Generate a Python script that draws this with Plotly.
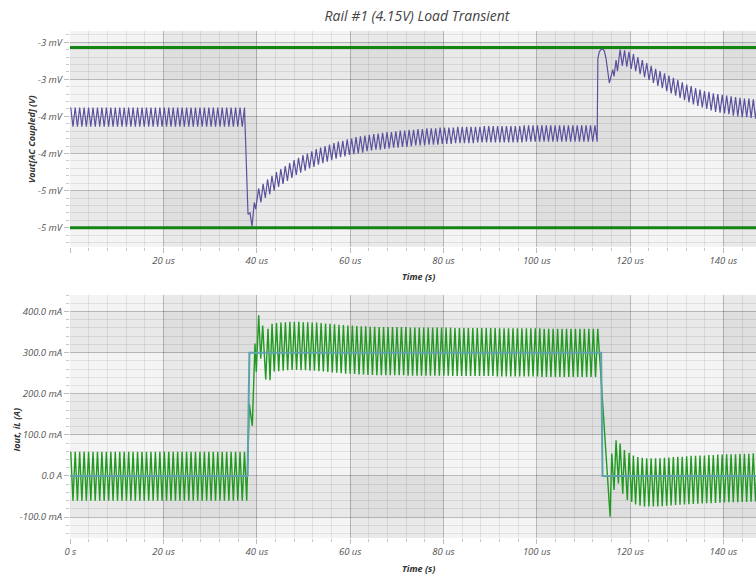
import numpy as np
import plotly.graph_objects as go
from plotly.subplots import make_subplots

# ---------------------------------------------------------------- axes / ticks
x_tick_vals = [0, 20, 40, 60, 80, 100, 120, 140]
x_tick_text_top = ["", "20 us", "40 us", "60 us", "80 us", "100 us", "120 us", "140 us"]
x_tick_text_bottom = ["0 s", "20 us", "40 us", "60 us", "80 us", "100 us", "120 us", "140 us"]

vout_tick_vals = [-5.0, -4.5, -4.0, -3.5, -3.0, -2.5]
vout_tick_text = ["-5 mV", "-5 mV", "-4 mV", "-4 mV", "-3 mV", "-3 mV"]
iout_tick_vals = [-100, 0, 100, 200, 300, 400]
iout_tick_text = ["-100.0 mA", "0.0 A", "100.0 mA", "200.0 mA", "300.0 mA", "400.0 mA"]

# ripple limits on Vout (mV)
vout_limits = [-2.57, -5.0]

# ---------------------------------------------------------------- load current (us, mA)
iout_t = [0.0, 38.0, 38.4, 113.8, 114.1, 147.5]
iout_ma = [0, 0, 300, 300, 0, 0]

# ---------------------------------------------------------------- Vout (mV)
# light load, switching ripple: cycle peaks / troughs
vout_a_span = [0.1, 37.345]
vout_a_peaks = [-3.38] * 40
vout_a_troughs = [-3.64] * 39

# load step 0 -> 300 mA
vout_step_t = [38.1, 38.53, 38.96, 39.45, 39.75]
vout_step_v = [-4.82, -4.80, -4.98, -4.66, -4.75]

# recovery under 300 mA load
vout_b_span = [40.39, 112.95]
vout_b_peaks = [
    -4.47, -4.41, -4.35, -4.30, -4.25, -4.21, -4.17, -4.13, -4.09, -4.06,
    -4.02, -4.00, -3.97, -3.94, -3.92, -3.90, -3.88, -3.86, -3.84, -3.83,
    -3.81, -3.80, -3.78, -3.77, -3.76, -3.75, -3.74, -3.73, -3.72, -3.71,
    -3.71, -3.70, -3.69, -3.69, -3.68, -3.68, -3.67, -3.67, -3.66, -3.66,
    -3.66, -3.65, -3.65, -3.65, -3.65, -3.64, -3.64, -3.64, -3.64, -3.64,
    -3.64, -3.63, -3.63, -3.63, -3.63, -3.63, -3.63, -3.63, -3.63, -3.63,
    -3.62, -3.62, -3.62, -3.62, -3.62, -3.62, -3.62, -3.62, -3.62, -3.62,
    -3.62, -3.62, -3.62, -3.62, -3.62, -3.62, -3.62,
]
vout_b_troughs = [
    -4.66, -4.60, -4.55, -4.50, -4.45, -4.41, -4.37, -4.33, -4.29, -4.26,
    -4.23, -4.20, -4.18, -4.15, -4.13, -4.11, -4.09, -4.07, -4.05, -4.04,
    -4.02, -4.01, -4.00, -3.99, -3.97, -3.96, -3.95, -3.95, -3.94, -3.93,
    -3.92, -3.92, -3.91, -3.91, -3.90, -3.89, -3.89, -3.89, -3.88, -3.88,
    -3.88, -3.87, -3.87, -3.87, -3.86, -3.86, -3.86, -3.86, -3.86, -3.85,
    -3.85, -3.85, -3.85, -3.85, -3.85, -3.85, -3.85, -3.85, -3.85, -3.85,
    -3.84, -3.84, -3.84, -3.84, -3.84, -3.84, -3.84, -3.84, -3.84, -3.84,
    -3.84, -3.84, -3.84, -3.84, -3.84, -3.84, -3.84,
]

# load release 300 -> 0 mA
vout_rel_t = [113.1, 113.4, 113.75, 114.15, 114.5, 114.85, 115.56, 116.29, 116.57, 117.0, 117.3]
vout_rel_v = [-2.72, -2.63, -2.60, -2.59, -2.62, -2.72, -3.05, -2.87, -2.96, -2.74, -2.89]

vout_c_span = [117.87, 147.38]
vout_c_peaks = [
    -2.60, -2.61, -2.63, -2.66, -2.70, -2.74, -2.78, -2.82, -2.86, -2.89,
    -2.92, -2.95, -2.98, -3.01, -3.04, -3.07, -3.09, -3.12, -3.14, -3.16,
    -3.17, -3.19, -3.20, -3.21, -3.22, -3.23, -3.24, -3.25, -3.26, -3.26,
    -3.27, -3.28,
]
vout_c_troughs = [
    -2.82, -2.83, -2.86, -2.89, -2.93, -2.97, -3.01, -3.05, -3.09, -3.12,
    -3.16, -3.19, -3.22, -3.25, -3.28, -3.31, -3.34, -3.36, -3.38, -3.40,
    -3.42, -3.44, -3.45, -3.46, -3.47, -3.49, -3.50, -3.51, -3.51, -3.52,
    -3.53,
]

# ---------------------------------------------------------------- inductor current (mA)
il_a_span = [0.1, 37.345]
il_a_peaks = [59] * 40
il_a_troughs = [-60] * 39

il_step_t = [37.82, 38.38, 39.02, 39.60, 39.88, 40.39, 40.82, 41.25, 41.90, 42.39, 42.82]
il_step_v = [-60, 175, 122, 322, 253, 391, 285, 366, 235, 358, 233]

il_b_span = [43.25, 113.08]
il_b_peaks = (
    [370, 372, 373, 374, 375, 375, 375, 374, 374, 373, 373, 372, 371, 370, 369,
     368, 367, 366, 366, 365, 364, 364, 363, 363]
    + [362] * 7 + [361] * 10 + [360] * 10 + [359] * 10 + [358] * 13
)
il_b_troughs = (
    [254, 255, 256, 257, 258, 258, 257, 257, 256, 256, 255, 254, 253, 252, 251,
     250, 249, 249, 248, 247, 247, 246, 246, 245]
    + [245] * 6 + [244] + [244] * 9 + [243] + [243] * 9 + [242] + [242] * 9
    + [241] + [241] * 12
)

il_rel_t = [115.73, 116.08, 116.57, 117.0, 117.5, 117.87, 118.44, 118.78, 119.42, 119.79, 120.37]
il_rel_v = [-99, 54.5, -34, 87, -18, 79, -43, 63, -59, 56.5, -63]

il_c_span = [120.71, 147.37]
il_c_peaks = [50, 46, 44, 43, 43, 43, 43, 44, 45, 46, 47, 47, 48, 49, 49,
              50, 50, 51, 51, 52, 52, 53, 53, 53, 54, 54, 54, 55, 55]
il_c_troughs = [-69, -72, -74, -74, -74, -74, -73.5, -72.5, -71.5, -70.5,
                -70, -69.5, -68.5, -68, -67.5, -67, -66.5, -66, -65.5, -65,
                -64.5, -64, -64, -63.5, -63, -63, -62.5, -62]


def ripple(span, peaks, troughs):
    """Zig-zag through alternating peak / trough values on an even clock."""
    vals = []
    for i, p in enumerate(peaks):
        vals.append(p)
        if i < len(troughs):
            vals.append(troughs[i])
    t = np.linspace(span[0], span[1], len(vals))
    return list(t), vals


def waveform(parts):
    t_all, v_all = [], []
    for t, v in parts:
        t_all += list(t)
        v_all += list(v)
    return t_all, v_all


vout_t, vout_v = waveform([
    ripple(vout_a_span, vout_a_peaks, vout_a_troughs),
    (vout_step_t, vout_step_v),
    ripple(vout_b_span, vout_b_peaks, vout_b_troughs),
    (vout_rel_t, vout_rel_v),
    ripple(vout_c_span, vout_c_peaks, vout_c_troughs),
])
il_t, il_v = waveform([
    ripple(il_a_span, il_a_peaks, il_a_troughs),
    (il_step_t, il_step_v),
    ripple(il_b_span, il_b_peaks, il_b_troughs),
    (il_rel_t, il_rel_v),
    ripple(il_c_span, il_c_peaks, il_c_troughs),
])

# ---------------------------------------------------------------- figure
FONT = "Open Sans, Segoe UI, sans-serif"
X_RANGE = [-0.06, 147.0]

fig = make_subplots(rows=2, cols=1, vertical_spacing=0.0)

for lim in vout_limits:
    fig.add_trace(go.Scatter(x=[X_RANGE[0], X_RANGE[1]], y=[lim, lim], mode="lines",
                             line=dict(color="#138513", width=3), hoverinfo="skip",
                             showlegend=False), row=1, col=1)
fig.add_trace(go.Scatter(x=vout_t, y=vout_v, mode="lines", name="Vout",
                         line=dict(color="#5a529e", width=1.2), showlegend=False),
              row=1, col=1)
fig.add_trace(go.Scatter(x=il_t, y=il_v, mode="lines", name="iL",
                         line=dict(color="#229a22", width=1.4), showlegend=False),
              row=2, col=1)
fig.add_trace(go.Scatter(x=iout_t, y=iout_ma, mode="lines", name="Iout",
                         line=dict(color="#5ea2ac", width=2), showlegend=False),
              row=2, col=1)

tick_font = dict(family=FONT, size=9.5, color="#555555", style="italic")
major_grid = "rgba(0,0,0,0.17)"
minor_grid = "rgba(0,0,0,0.08)"

common_x = dict(range=X_RANGE, tickvals=x_tick_vals, showgrid=True, gridcolor=major_grid,
                gridwidth=1, zeroline=False, showline=False, ticks="outside", ticklen=5,
                tickcolor="#bdbdbd", tickfont=tick_font,
                minor=dict(dtick=4, tick0=0, showgrid=True, gridcolor=minor_grid,
                           ticks="outside", ticklen=3, tickcolor="#c8c8c8"))
fig.update_xaxes(**common_x, ticktext=x_tick_text_top, row=1, col=1)
fig.update_xaxes(**common_x, ticktext=x_tick_text_bottom, row=2, col=1)

common_y = dict(showgrid=True, gridcolor=major_grid, gridwidth=1, zeroline=False,
                showline=False, ticks="outside", ticklen=5, tickcolor="#bdbdbd",
                tickfont=tick_font)
fig.update_yaxes(**common_y, range=[-5.256, -2.349], tickvals=vout_tick_vals,
                 ticktext=vout_tick_text,
                 minor=dict(dtick=0.1, tick0=0, showgrid=True, gridcolor=minor_grid,
                            ticks="outside", ticklen=3, tickcolor="#c8c8c8"),
                 row=1, col=1)
fig.update_yaxes(**common_y, range=[-150.8, 440.2], tickvals=iout_tick_vals,
                 ticktext=iout_tick_text,
                 minor=dict(dtick=20, tick0=0, showgrid=True, gridcolor=minor_grid,
                            ticks="outside", ticklen=3, tickcolor="#c8c8c8"),
                 row=2, col=1)

# plot areas: top 31..246.7 px, bottom 295..538 px of a 576 px page
fig.update_layout(
    yaxis=dict(domain=[0.5746, 1.0]),
    yaxis2=dict(domain=[0.0, 0.4793]),
)

# alternating shaded bands behind the grid
band = "rgba(0,0,0,0.045)"
shapes = []
for xa, ya in (("x", "y"), ("x2", "y2")):
    for x0 in (20, 60, 100, 140):
        shapes.append(dict(type="rect", xref=xa, yref=ya + " domain", x0=x0, x1=x0 + 20,
                           y0=0, y1=1, fillcolor=band, line=dict(width=0), layer="below"))
for y0 in (-5.0, -4.0, -3.0):
    shapes.append(dict(type="rect", xref="x domain", yref="y", x0=0, x1=1, y0=y0,
                       y1=y0 + 0.5, fillcolor=band, line=dict(width=0), layer="below"))
for y0 in (-100, 100, 300):
    shapes.append(dict(type="rect", xref="x2 domain", yref="y2", x0=0, x1=1, y0=y0,
                       y1=y0 + 100, fillcolor=band, line=dict(width=0), layer="below"))

axis_title_font = dict(family=FONT, size=9, color="#333333", style="italic", weight="bold")
annotations = [
    dict(text="Time (s)", x=0.5073, y=0.5154, xref="paper", yref="paper",
         showarrow=False, font=axis_title_font, xanchor="center", yanchor="middle"),
    dict(text="Time (s)", x=0.5073, y=-0.0598, xref="paper", yref="paper",
         showarrow=False, font=axis_title_font, xanchor="center", yanchor="middle"),
    dict(text="Vout[AC Coupled] (V)", x=-0.0554, y=0.787, xref="paper", yref="paper",
         showarrow=False, font=axis_title_font, textangle=-90,
         xanchor="center", yanchor="middle"),
    dict(text="Iout, iL (A)", x=-0.0794, y=0.213, xref="paper", yref="paper",
         showarrow=False, font=axis_title_font, textangle=-90,
         xanchor="center", yanchor="middle"),
]

fig.update_layout(
    width=756, height=576,
    margin=dict(l=70, r=0, t=31, b=38),
    paper_bgcolor="white",
    plot_bgcolor="#f4f4f4",
    title=dict(text="Rail #1 (4.15V) Load Transient", x=0.5516, xanchor="center",
               y=0.972, yanchor="middle",
               font=dict(family=FONT, size=14, color="#444444", style="italic")),
    shapes=shapes,
    annotations=annotations,
    showlegend=False,
)

fig.write_html("out.html")
